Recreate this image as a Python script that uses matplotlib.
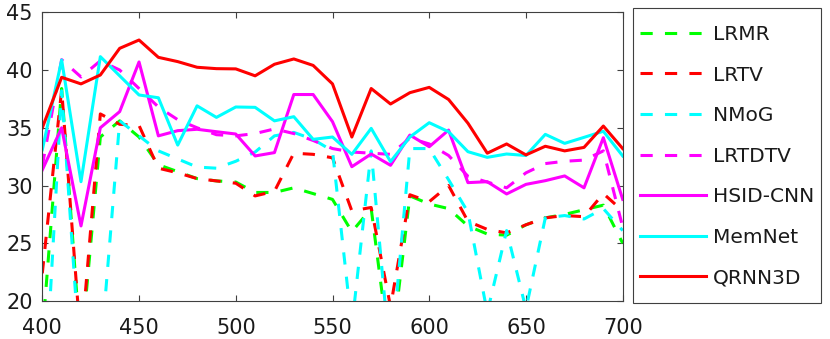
import numpy as np
import matplotlib.pyplot as plt
import matplotlib.patches as patches

plt.rcParams['font.family'] = ['DejaVu Sans']

# wavelength (nm)
wavelength = np.arange(400, 701, 10)

# PSNR per band for each method
lrmr = [17.0, 38.4, 15.6, 34.2, 35.6, 34.2, 31.8, 31.2, 30.6, 30.4, 30.3,
        29.4, 29.4, 29.8, 29.3, 28.8, 26.0, 28.0, 15.0, 29.1, 28.4,
        28.0, 26.5, 25.8, 25.7, 26.6, 27.2, 27.5, 27.9, 28.3, 25.0]
lrtv = [22.4, 38.3, 16.2, 36.2, 35.3, 35.2, 31.5, 31.1, 30.6, 30.4, 30.2,
        29.1, 29.5, 32.8, 32.7, 32.4, 27.8, 28.1, 19.5, 29.2, 28.6,
        30.0, 26.9, 26.2, 25.9, 26.6, 27.2, 27.4, 27.3, 29.3, 27.8]
nmog = [8.0, 38.2, 13.7, 15.1, 35.6, 34.3, 33.0, 32.3, 31.6, 31.5, 32.1,
        32.9, 34.3, 34.6, 34.0, 33.0, 17.8, 33.0, 14.6, 33.2, 33.2,
        30.5, 27.7, 19.0, 26.1, 19.3, 27.2, 27.4, 27.1, 28.0, 26.1]
lrtdtv = [31.7, 40.9, 39.4, 40.8, 40.0, 38.4, 36.8, 35.7, 35.0, 34.4, 34.3,
          34.5, 34.9, 34.5, 33.9, 33.2, 32.9, 32.8, 32.7, 34.1, 33.6,
          32.6, 30.8, 30.3, 29.8, 31.1, 31.9, 32.1, 32.2, 33.0, 26.4]
hsid_cnn = [31.35, 35.0, 26.5, 35.0, 36.4, 40.7, 34.3, 34.75, 34.87, 34.66, 34.46,
            32.56, 32.85, 37.88, 37.88, 35.53, 31.63, 32.73, 31.75, 34.37, 33.36,
            34.8, 30.25, 30.33, 29.27, 30.1, 30.42, 30.83, 29.8, 34.14, 28.8]
memnet = [33.1, 40.87, 30.33, 41.16, 39.5, 37.84, 37.6, 33.5, 36.9, 35.9, 36.8,
          36.77, 35.6, 35.96, 34.0, 34.2, 32.7, 34.95, 32.07, 34.2, 35.44,
          34.66, 32.93, 32.44, 32.73, 32.6, 34.43, 33.65, 34.17, 34.7, 32.56]
qrnn3d = [35.0, 39.37, 38.8, 39.57, 41.88, 42.6, 41.1, 40.73, 40.24, 40.12, 40.1,
          39.5, 40.5, 40.96, 40.4, 38.8, 34.2, 38.4, 37.06, 38.04, 38.5,
          37.45, 35.4, 32.8, 33.6, 32.65, 33.4, 33.0, 33.3, 35.15, 33.2]

W, H = 830, 339
fig = plt.figure(figsize=(W / 100, H / 100), dpi=100)
ax = fig.add_axes([42.3 / W, 1 - 301 / H, (622.7 - 42.3) / W, (301 - 12.3) / H])

dash = (0, (4, 4))
lw = 2.2
ax.plot(wavelength, lrmr, color='#00ff00', ls=dash, lw=lw, label='LRMR')
ax.plot(wavelength, lrtv, color='#ff0000', ls=dash, lw=lw, label='LRTV')
ax.plot(wavelength, nmog, color='#00ffff', ls=dash, lw=lw, label='NMoG')
ax.plot(wavelength, lrtdtv, color='#ff00ff', ls=dash, lw=lw, label='LRTDTV')
ax.plot(wavelength, hsid_cnn, color='#ff00ff', lw=lw, label='HSID-CNN')
ax.plot(wavelength, memnet, color='#00ffff', lw=lw, label='MemNet')
ax.plot(wavelength, qrnn3d, color='#ff0000', lw=lw, label='QRNN3D')

ax.set_xlim(400, 700)
ax.set_ylim(20, 45)
ax.set_xticks(np.arange(400, 701, 50))
ax.set_yticks(np.arange(20, 46, 5))
for s in ax.spines.values():
    s.set_color('0.25')
    s.set_linewidth(0.8)
ax.tick_params(direction='in', top=True, right=True, length=4, width=0.8,
               color='0.25', labelsize=15, labelcolor='0.1')
ax.tick_params(axis='x', pad=12)
ax.tick_params(axis='y', pad=7)

handles, labels = ax.get_legend_handles_labels()
fig.legend(handles, labels, loc='upper left', bbox_to_anchor=(640 / W, 1 - 25 / H),
           frameon=False, borderpad=0, borderaxespad=0, handlelength=3.3,
           handletextpad=0.3, labelspacing=1.07, fontsize=14.5, labelcolor='0.1')
fig.add_artist(patches.Rectangle((633 / W, 1 - 303 / H), (821 - 633) / W, (303 - 8) / H,
                                 transform=fig.transFigure, fill=False,
                                 edgecolor='0.25', lw=0.8))

fig.savefig('out.png', dpi=100)
